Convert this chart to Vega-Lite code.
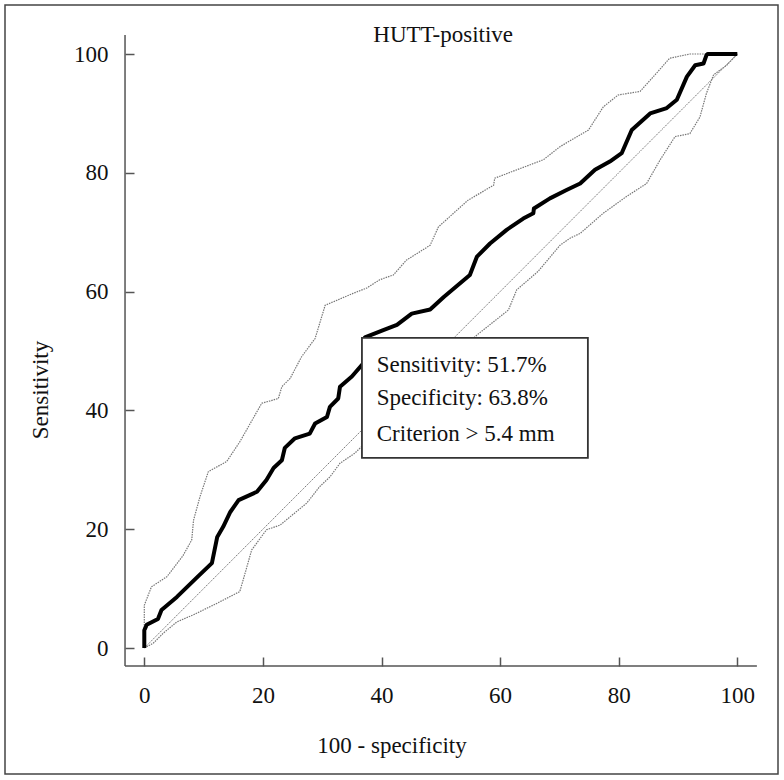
{
  "$schema": "https://vega.github.io/schema/vega-lite/v6.json",
  "width": 773,
  "height": 769,
  "autosize": {"type": "none"},
  "padding": {"left": 5, "top": 5, "right": 6, "bottom": 6},
  "background": "white",
  "config": {
    "view": {"stroke": "#444", "strokeWidth": 1.5},
    "font": "Liberation Serif",
    "text": {"font": "Liberation Serif"}
  },
  "datasets": {
    "roc": [
      {"x": 0, "y": 0}, {"x": 0, "y": 3}, {"x": 0.4, "y": 3.9}, {"x": 2.3, "y": 4.9}, {"x": 2.9, "y": 6.4},
      {"x": 5.5, "y": 8.6}, {"x": 8.8, "y": 11.8}, {"x": 11.4, "y": 14.3}, {"x": 12.3, "y": 18.7},
      {"x": 13.3, "y": 20.4}, {"x": 14.5, "y": 22.9}, {"x": 15.9, "y": 24.9}, {"x": 19.0, "y": 26.3},
      {"x": 20.6, "y": 28.3}, {"x": 21.8, "y": 30.3}, {"x": 23.2, "y": 31.6}, {"x": 23.7, "y": 33.7},
      {"x": 25.4, "y": 35.3}, {"x": 27.9, "y": 36.1}, {"x": 28.8, "y": 37.8}, {"x": 30.8, "y": 38.9},
      {"x": 31.3, "y": 40.6}, {"x": 32.7, "y": 42.0}, {"x": 33.0, "y": 44.0}, {"x": 35.0, "y": 45.7},
      {"x": 36.9, "y": 47.9}, {"x": 37.2, "y": 52.3}, {"x": 40.3, "y": 53.5}, {"x": 42.6, "y": 54.4},
      {"x": 45.1, "y": 56.3}, {"x": 48.2, "y": 57.0}, {"x": 50.5, "y": 59.1}, {"x": 54.9, "y": 62.8},
      {"x": 56.1, "y": 65.9}, {"x": 58.3, "y": 68.1}, {"x": 61.1, "y": 70.4}, {"x": 63.9, "y": 72.3},
      {"x": 65.6, "y": 73.2}, {"x": 65.7, "y": 74.0}, {"x": 68.4, "y": 75.7}, {"x": 71.2, "y": 77.1},
      {"x": 73.5, "y": 78.2}, {"x": 76.0, "y": 80.5}, {"x": 78.5, "y": 81.9}, {"x": 80.5, "y": 83.3},
      {"x": 82.2, "y": 87.2}, {"x": 85.3, "y": 90.0}, {"x": 88.1, "y": 90.9}, {"x": 89.8, "y": 92.3},
      {"x": 91.5, "y": 96.2}, {"x": 92.9, "y": 98.1}, {"x": 94.3, "y": 98.4}, {"x": 94.8, "y": 99.8},
      {"x": 95.0, "y": 100}, {"x": 100, "y": 100}
    ],
    "ci": [
      {"band": "upper", "x": 0, "y": 0}, {"band": "upper", "x": 0, "y": 7.2}, {"band": "upper", "x": 1.2, "y": 10.3},
      {"band": "upper", "x": 3.8, "y": 12.0}, {"band": "upper", "x": 6.5, "y": 15.5}, {"band": "upper", "x": 8.0, "y": 18.2},
      {"band": "upper", "x": 8.3, "y": 21.5}, {"band": "upper", "x": 9.4, "y": 25.5}, {"band": "upper", "x": 10.8, "y": 29.7},
      {"band": "upper", "x": 13.9, "y": 31.4}, {"band": "upper", "x": 16.1, "y": 34.7}, {"band": "upper", "x": 19.8, "y": 41.2},
      {"band": "upper", "x": 22.6, "y": 42.0}, {"band": "upper", "x": 23.2, "y": 44.0}, {"band": "upper", "x": 24.6, "y": 45.4},
      {"band": "upper", "x": 26.5, "y": 49.0}, {"band": "upper", "x": 28.8, "y": 52.1}, {"band": "upper", "x": 30.5, "y": 57.7},
      {"band": "upper", "x": 35.2, "y": 59.7}, {"band": "upper", "x": 37.5, "y": 60.6}, {"band": "upper", "x": 39.7, "y": 62.0},
      {"band": "upper", "x": 42.0, "y": 62.8}, {"band": "upper", "x": 44.2, "y": 65.3}, {"band": "upper", "x": 48.2, "y": 67.8},
      {"band": "upper", "x": 49.6, "y": 70.9}, {"band": "upper", "x": 54.6, "y": 75.4}, {"band": "upper", "x": 58.9, "y": 77.9},
      {"band": "upper", "x": 59.1, "y": 79.1}, {"band": "upper", "x": 62.8, "y": 80.5}, {"band": "upper", "x": 67.3, "y": 82.2},
      {"band": "upper", "x": 70.1, "y": 84.4}, {"band": "upper", "x": 74.9, "y": 87.2}, {"band": "upper", "x": 77.4, "y": 91.1},
      {"band": "upper", "x": 79.9, "y": 93.1}, {"band": "upper", "x": 83.6, "y": 93.7}, {"band": "upper", "x": 86.4, "y": 96.8},
      {"band": "upper", "x": 88.6, "y": 99.3}, {"band": "upper", "x": 92.0, "y": 100}, {"band": "upper", "x": 100, "y": 100},
      {"band": "lower", "x": 0, "y": 0}, {"band": "lower", "x": 1.5, "y": 0.8}, {"band": "lower", "x": 3.2, "y": 2.5},
      {"band": "lower", "x": 5.5, "y": 4.4}, {"band": "lower", "x": 8.3, "y": 5.6}, {"band": "lower", "x": 12.2, "y": 7.5},
      {"band": "lower", "x": 16.1, "y": 9.5}, {"band": "lower", "x": 17.0, "y": 12.6}, {"band": "lower", "x": 18.1, "y": 16.5},
      {"band": "lower", "x": 20.6, "y": 19.9}, {"band": "lower", "x": 22.9, "y": 20.7}, {"band": "lower", "x": 27.4, "y": 24.4},
      {"band": "lower", "x": 29.6, "y": 27.2}, {"band": "lower", "x": 31.3, "y": 28.8}, {"band": "lower", "x": 33.0, "y": 31.1},
      {"band": "lower", "x": 35.5, "y": 32.8}, {"band": "lower", "x": 56.1, "y": 52.7}, {"band": "lower", "x": 61.4, "y": 56.9},
      {"band": "lower", "x": 62.8, "y": 60.3}, {"band": "lower", "x": 66.4, "y": 63.4}, {"band": "lower", "x": 70.1, "y": 67.8},
      {"band": "lower", "x": 71.8, "y": 69.0}, {"band": "lower", "x": 73.5, "y": 69.8}, {"band": "lower", "x": 77.4, "y": 73.2},
      {"band": "lower", "x": 81.3, "y": 76.0}, {"band": "lower", "x": 84.7, "y": 78.2}, {"band": "lower", "x": 87.0, "y": 82.2},
      {"band": "lower", "x": 89.5, "y": 86.1}, {"band": "lower", "x": 92.0, "y": 86.6}, {"band": "lower", "x": 93.7, "y": 89.4},
      {"band": "lower", "x": 94.8, "y": 93.4}, {"band": "lower", "x": 96.0, "y": 96.5}, {"band": "lower", "x": 98.2, "y": 98.1},
      {"band": "lower", "x": 100, "y": 100}
    ]
  },
  "encoding": {
    "x": {
      "field": "x", "type": "quantitative",
      "scale": {"domain": [-23.49, 106.86], "nice": false, "zero": false},
      "axis": {
        "title": "100 - specificity", "values": [0, 20, 40, 60, 80, 100],
        "offset": -108, "domain": false, "grid": false,
        "tickSize": -9, "tickColor": "#555", "tickWidth": 1.5,
        "labelFont": "Liberation Serif", "labelFontSize": 23, "labelColor": "#111", "labelPadding": 27,
        "labelFlush": false,
        "titleFont": "Liberation Serif", "titleFontSize": 23, "titleFontWeight": "normal", "titleColor": "#111",
        "titlePadding": 27
      }
    },
    "y": {
      "field": "y", "type": "quantitative",
      "scale": {"domain": [-21.21, 108.25], "nice": false, "zero": false},
      "axis": {
        "title": "Sensitivity", "values": [0, 20, 40, 60, 80, 100],
        "offset": -120, "domain": false, "grid": false,
        "tickSize": -9, "tickColor": "#555", "tickWidth": 1.5,
        "labelFont": "Liberation Serif", "labelFontSize": 23, "labelColor": "#111", "labelPadding": 26,
        "labelFlush": false,
        "titleFont": "Liberation Serif", "titleFontSize": 23, "titleFontWeight": "normal", "titleColor": "#111",
        "titlePadding": 21
      }
    }
  },
  "layer": [
    {
      "data": {"values": [{"x": -3.25, "y": -3.03, "x2": 103.3, "y2": -3.03}, {"x": -3.25, "y": -3.03, "x2": -3.25, "y2": 103.2}]},
      "mark": {"type": "rule", "color": "#555", "strokeWidth": 1.5},
      "encoding": {"x2": {"field": "x2"}, "y2": {"field": "y2"}}
    },
    {
      "data": {"values": [{"x": 0, "y": 0}, {"x": 100, "y": 100}]},
      "mark": {"type": "line", "color": "#777", "strokeWidth": 1, "strokeDash": [1.5, 1]},
      "encoding": {}
    },
    {
      "data": {"name": "ci"},
      "mark": {"type": "line", "color": "#777", "strokeWidth": 1.2, "strokeDash": [1.5, 1]},
      "encoding": {"detail": {"field": "band"}, "order": {"value": null}}
    },
    {
      "data": {"name": "roc"},
      "mark": {"type": "line", "color": "#000", "strokeWidth": 4, "strokeJoin": "round"},
      "encoding": {"order": {"value": null}}
    },
    {
      "data": {"values": [{"x": 36.7, "x2": 74.8, "y": 32.0, "y2": 52.2}]},
      "mark": {"type": "rect", "fill": "white", "stroke": "#333", "strokeWidth": 1.8},
      "encoding": {"x2": {"field": "x2"}, "y2": {"field": "y2"}}
    },
    {
      "data": {"values": [
        {"x": 39.2, "y": 46.5, "label": "Sensitivity: 51.7%"},
        {"x": 39.2, "y": 40.9, "label": "Specificity: 63.8%"},
        {"x": 39.2, "y": 34.8, "label": "Criterion > 5.4 mm"}
      ]},
      "mark": {"type": "text", "align": "left", "baseline": "alphabetic", "fontSize": 23, "font": "Liberation Serif", "color": "#111"},
      "encoding": {"text": {"field": "label"}}
    },
    {
      "data": {"values": [{"x": 50.4, "y": 102.1, "label": "HUTT-positive"}]},
      "mark": {"type": "text", "align": "center", "baseline": "alphabetic", "fontSize": 23, "font": "Liberation Serif", "color": "#111"},
      "encoding": {"text": {"field": "label"}}
    }
  ]
}
